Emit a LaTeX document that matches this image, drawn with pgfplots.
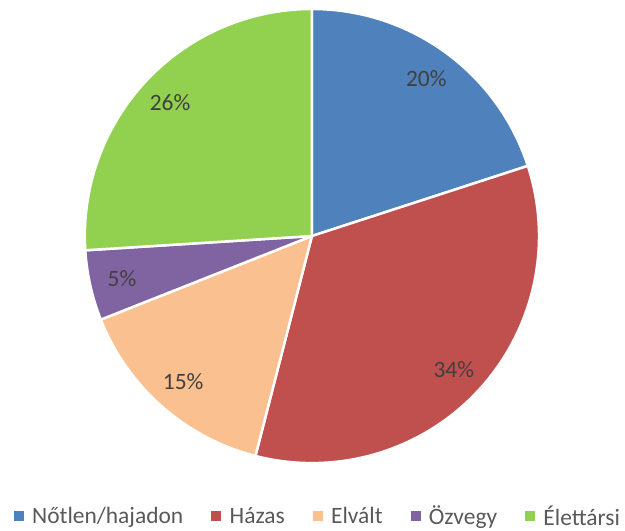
\documentclass[border=0pt]{standalone}
\usepackage{pgfplots}
\usepackage{pgfplotstable}
\pgfplotsset{compat=1.18}
\usepackage{fontspec}
\setmainfont{Carlito}
\definecolor{pie0}{HTML}{4F81BD}
\definecolor{pie1}{HTML}{C0504D}
\definecolor{pie2}{HTML}{FAC090}
\definecolor{pie3}{HTML}{8064A2}
\definecolor{pie4}{HTML}{92D050}
\definecolor{labgray}{HTML}{404040}
\definecolor{leggray}{HTML}{595959}

\pgfplotstableread{
idx value
0 20
1 34
2 15
3 5
4 26
}\piedata

\begin{document}
\begin{tikzpicture}
\begin{axis}[
  scale only axis, width=625pt, height=532pt,
  xmin=0, xmax=625, ymin=0, ymax=532,
  hide axis, clip=false,
  legend style={at={(axis cs:318.5,15)}, anchor=center, draw=none, fill=none,
    legend columns=-1, text=leggray, font=\fontsize{23.5}{26}\selectfont,
    /tikz/every even column/.append style={column sep=26pt},
    /tikz/every odd column/.append style={column sep=7pt}},
  legend image code/.code={\fill[#1] (0pt,-4.5pt) rectangle (9pt,4.5pt);},
]
\path (axis cs:0,0) rectangle (axis cs:625,532);
\def\cum{0}
\pgfplotsforeachungrouped \i in {0,...,4}{%
  \pgfplotstablegetelem{\i}{value}\of\piedata
  \let\v\pgfplotsretval
  \pgfmathsetmacro\sa{90-3.6*\cum}%
  \pgfmathsetmacro\ea{90-3.6*(\cum+\v)}%
  \pgfmathsetmacro\ma{(\sa+\ea)/2}%
  \pgfmathsetmacro\cum{\cum+\v}%
  \edef\temp{%
    \noexpand\fill[fill=pie\i, draw=white, line width=2.5pt, line join=round]
      (axis cs:312.5,295.5) -- ++(\sa:227.5pt) arc[start angle=\sa, end angle=\ea, radius=227.5pt] -- cycle;
    \noexpand\path (axis cs:312.5,295.5) ++(\ma:195pt)
      node[text=labgray, font=\noexpand\fontsize{23.5}{26}\noexpand\selectfont] {\v\noexpand\%};
  }%
  \temp
}
\addlegendimage{pie0}\addlegendentry{Nőtlen/hajadon}
\addlegendimage{pie1}\addlegendentry{Házas}
\addlegendimage{pie2}\addlegendentry{Elvált}
\addlegendimage{pie3}\addlegendentry{Özvegy}
\addlegendimage{pie4}\addlegendentry{Élettársi}
\end{axis}
\end{tikzpicture}
\end{document}
